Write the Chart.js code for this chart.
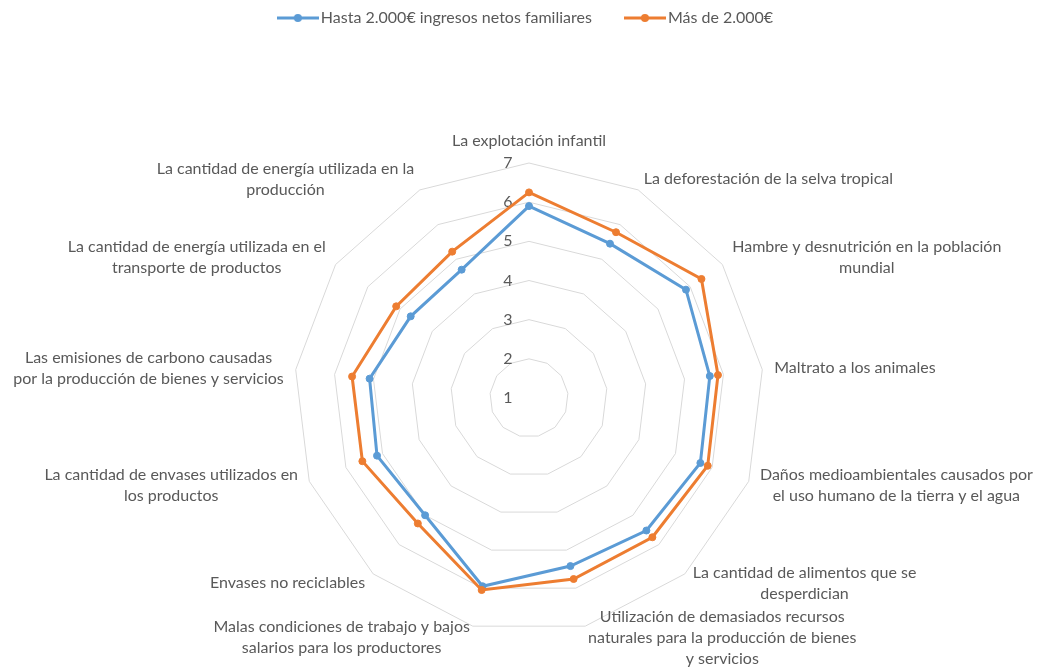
<!DOCTYPE html>
<html>
<head>
<meta charset="utf-8">
<script src="https://cdn.jsdelivr.net/npm/chart.js@4.4.1/dist/chart.umd.min.js"></script>
<style>
  html, body { margin: 0; padding: 0; background: #ffffff; }
  canvas { display: block; }
</style>
</head>
<body>
<canvas id="chart" width="1038" height="670"></canvas>
<script>
// ---- data ----
const CATEGORIES = [
  ["La explotación infantil"],
  ["La deforestación de la selva tropical"],
  ["Hambre y desnutrición en la población", "mundial"],
  ["Maltrato a los animales"],
  ["Daños medioambientales causados por", "el uso humano de la tierra y el agua"],
  ["La cantidad de alimentos que se", "desperdician"],
  ["Utilización de demasiados recursos", "naturales para la producción de bienes", "y servicios"],
  ["Malas condiciones de trabajo y bajos", "salarios para los productores"],
  ["Envases no reciclables"],
  ["La cantidad de envases utilizados en", "los productos"],
  ["Las emisiones de carbono causadas", "por la producción de bienes y servicios"],
  ["La cantidad de energía utilizada en el", "transporte de productos"],
  ["La cantidad de energía utilizada en la", "producción"]
];
const SERIES_NAMES = ["Hasta 2.000€ ingresos netos familiares", "Más de 2.000€"];
const HASTA_2000 = [5.90, 5.45, 5.87, 5.65, 5.68, 5.52, 5.42, 5.95, 5.00, 5.15, 5.10, 4.67, 4.70];
const MAS_2000   = [6.25, 5.78, 6.35, 5.86, 5.88, 5.75, 5.76, 6.05, 5.28, 5.55, 5.55, 5.12, 5.22];
const TICK_LABELS = ["1", "2", "3", "4", "5", "6", "7"];
const AXIS_MIN = 1;
const AXIS_MAX = 7;

// ---- layout / style ----
const CENTER_X = 529;
const CENTER_Y = 398;
const RADIUS = 235;
const LABEL_PAD = 12;
const LINE_H = 21;
const FONT_FAMILY = 'Lato, "Liberation Sans", Arial, sans-serif';
const FONT_SIZE = 16;
const TEXT_COLOR = '#595959';
const BLUE = '#5B9BD5';
const ORANGE = '#ED7D31';
const GRID = '#D9D9D9';

Chart.defaults.font.family = FONT_FAMILY;
Chart.defaults.font.size = FONT_SIZE;
Chart.defaults.color = TEXT_COLOR;

class FixedRadialScale extends Chart.RadialLinearScale {
  setCenterPoint() {
    this.xCenter = CENTER_X;
    this.yCenter = CENTER_Y;
    this.drawingArea = RADIUS;
  }
}
FixedRadialScale.id = 'fixedRadial';
FixedRadialScale.defaults = Chart.RadialLinearScale.defaults;
FixedRadialScale.defaultRoutes = Chart.RadialLinearScale.defaultRoutes;
FixedRadialScale.descriptors = Chart.RadialLinearScale.descriptors;
Chart.register(FixedRadialScale);

function legendSymbol(color) {
  const c = document.createElement('canvas');
  c.width = 42; c.height = 12;
  const g = c.getContext('2d');
  g.strokeStyle = color; g.lineWidth = 3;
  g.beginPath(); g.moveTo(0, 6); g.lineTo(42, 6); g.stroke();
  g.fillStyle = color;
  g.beginPath(); g.arc(21, 6, 4, 0, Math.PI * 2); g.fill();
  return c;
}
const SYMBOLS = [legendSymbol(BLUE), legendSymbol(ORANGE)];

const labelPlugin = {
  id: 'excelLabels',
  beforeDatasetsDraw(chart) {
    const scale = chart.scales.r;
    const ctx = chart.ctx;
    ctx.save();
    ctx.font = FONT_SIZE + 'px ' + FONT_FAMILY;
    ctx.fillStyle = TEXT_COLOR;
    ctx.textBaseline = 'middle';
    ctx.textAlign = 'center';
    const n = CATEGORIES.length;
    CATEGORIES.forEach((lines, i) => {
      const pos = scale.getPointPosition(i, scale.drawingArea + LABEL_PAD);
      const deg = Math.round(i * 360 / n * 100) / 100;
      const w = Math.max(...lines.map(l => ctx.measureText(l).width));
      const h = lines.length * LINE_H;
      let left;
      if (deg === 0 || deg === 180) left = pos.x - w / 2;
      else if (deg < 180) left = pos.x;
      else left = pos.x - w;
      const top = deg === 0 ? pos.y - h : pos.y - h / 2;
      lines.forEach((l, k) => ctx.fillText(l, left + w / 2, top + LINE_H * (k + 0.5)));
    });
    // value axis labels, left of the vertical axis
    TICK_LABELS.forEach(t => {
      const d = scale.getDistanceFromCenterForValue(Number(t));
      ctx.fillText(t, scale.xCenter - 21, scale.yCenter - d);
    });
    ctx.restore();
  }
};

new Chart(document.getElementById('chart'), {
  type: 'radar',
  data: {
    labels: CATEGORIES,
    datasets: [
      {
        label: SERIES_NAMES[0],
        data: HASTA_2000,
        borderColor: BLUE,
        backgroundColor: BLUE,
        pointBackgroundColor: BLUE,
        pointBorderColor: BLUE,
        borderWidth: 3,
        pointRadius: 3.5,
        pointBorderWidth: 1,
        fill: false,
        order: 1
      },
      {
        label: SERIES_NAMES[1],
        data: MAS_2000,
        borderColor: ORANGE,
        backgroundColor: ORANGE,
        pointBackgroundColor: ORANGE,
        pointBorderColor: ORANGE,
        borderWidth: 3,
        pointRadius: 3.5,
        pointBorderWidth: 1,
        fill: false,
        order: 0
      }
    ]
  },
  options: {
    responsive: false,
    animation: false,
    devicePixelRatio: 1,
    layout: { padding: { top: -28, left: 18, right: 0, bottom: 0 } },
    scales: {
      r: {
        type: 'fixedRadial',
        min: AXIS_MIN,
        max: AXIS_MAX,
        ticks: { stepSize: 1, display: false },
        grid: { circular: false, color: GRID, lineWidth: 1 },
        angleLines: { display: false },
        pointLabels: { display: false }
      }
    },
    plugins: {
      tooltip: { enabled: false },
      legend: {
        position: 'top',
        labels: {
          usePointStyle: true,
          pointStyleWidth: 30,
          padding: 38,
          color: TEXT_COLOR,
          font: { size: FONT_SIZE, family: FONT_FAMILY },
          sort: (a, b) => a.datasetIndex - b.datasetIndex,
          generateLabels(chart) {
            const items = Chart.defaults.plugins.legend.labels.generateLabels(chart);
            return items.map(it => Object.assign(it, { pointStyle: SYMBOLS[it.datasetIndex] }));
          }
        }
      }
    }
  },
  plugins: [labelPlugin]
});
</script>
</body>
</html>
